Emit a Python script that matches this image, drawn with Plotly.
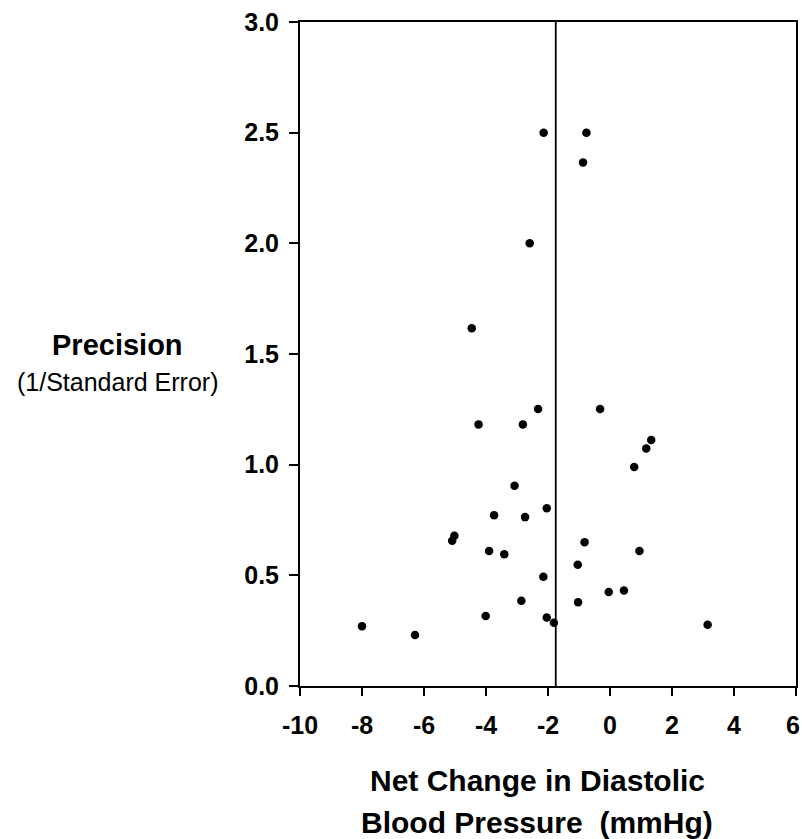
import plotly.graph_objects as go

net_change = [-2.14, -0.76, -0.87, -2.59,
              -4.46, -2.32, -0.32, -4.24, -2.81, 1.33, 1.17, 0.78, -3.08,
              -3.74, -2.74, -2.04, -5.02, -5.09, -0.82,
              -3.90, -3.41, 0.95, -1.04, -2.15, -0.04, 0.45, -2.86, -1.03,
              -4.01, -2.04, -1.81, -8.00, -6.29, 3.15]
precision = [2.50, 2.50, 2.365, 2.00,
             1.616, 1.252, 1.252, 1.182, 1.182, 1.111, 1.073, 0.989, 0.905,
             0.772, 0.763, 0.803, 0.679, 0.656, 0.649,
             0.610, 0.595, 0.610, 0.548, 0.494, 0.425, 0.431, 0.385, 0.378,
             0.316, 0.309, 0.286, 0.270, 0.230, 0.277]
pooled_effect = -1.75
x_ticks = [-10, -8, -6, -4, -2, 0, 2, 4, 6]
y_ticks = [0.0, 0.5, 1.0, 1.5, 2.0, 2.5, 3.0]

FONT = "Liberation Sans"
TICKFONT = dict(family=FONT, size=25, color="black", weight="bold")

fig = go.Figure()
fig.add_trace(go.Scatter(
    x=net_change, y=precision, mode="markers",
    marker=dict(color="black", size=8.5, line=dict(width=0)),
    showlegend=False, cliponaxis=False))

fig.add_shape(type="line", x0=pooled_effect, x1=pooled_effect, y0=0, y1=3,
              xref="x", yref="y", line=dict(color="black", width=1.8))

# the last x tick label sits at the page edge: draw it as an annotation so it is not dropped
x_ticktext = [str(v) for v in x_ticks[:-1]] + [""]
annotations = [
    dict(text=str(x_ticks[-1]), xref="x", yref="paper", x=x_ticks[-1], y=-0.0587,
         xanchor="center", yanchor="middle", xshift=-3, showarrow=False, font=TICKFONT),
    dict(text="<b>Net Change in Diastolic</b>", xref="paper", yref="paper",
         x=0.478, y=-0.1416, xanchor="center", yanchor="middle", showarrow=False,
         font=dict(family=FONT, size=30, color="black")),
    dict(text="<b>Blood Pressure  (mmHg)</b>", xref="paper", yref="paper",
         x=0.478, y=-0.206, xanchor="center", yanchor="middle", showarrow=False,
         font=dict(family=FONT, size=30, color="black")),
    dict(text="<b>Precision</b>", xref="paper", yref="paper",
         x=-0.368, y=0.5136, xanchor="center", yanchor="middle", showarrow=False,
         font=dict(family=FONT, size=29, color="black")),
    dict(text="(1/Standard Error)", xref="paper", yref="paper",
         x=-0.368, y=0.458, xanchor="center", yanchor="middle", showarrow=False,
         font=dict(family=FONT, size=25, color="black")),
]

fig.update_layout(
    width=802, height=839,
    margin=dict(l=300, r=6, t=22, b=153, autoexpand=False),
    paper_bgcolor="white", plot_bgcolor="white",
    font=dict(family=FONT, color="black"),
    xaxis=dict(range=[-10, 6], tickvals=x_ticks, ticktext=x_ticktext,
               showgrid=False, zeroline=False, showline=True, linecolor="black",
               linewidth=2, mirror=True, ticks="outside", ticklen=8,
               tickwidth=2, tickcolor="black", ticklabelstandoff=8, automargin=False,
               tickfont=TICKFONT),
    yaxis=dict(range=[0, 3], tickvals=y_ticks, ticktext=[f"{v:.1f}" for v in y_ticks],
               showgrid=False, zeroline=False, showline=True, linecolor="black",
               linewidth=2, mirror=True, ticks="outside", ticklen=9,
               tickwidth=2, tickcolor="black", ticklabelstandoff=5, automargin=False,
               tickfont=TICKFONT),
    annotations=annotations,
)

fig.write_html("out.html")
